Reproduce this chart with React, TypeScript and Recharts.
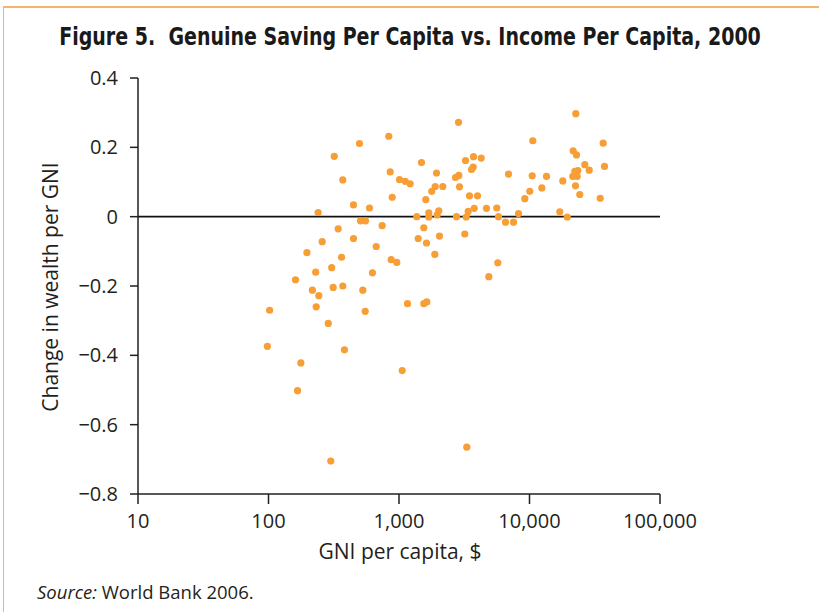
import { ReferenceLine, Scatter, ScatterChart, XAxis, YAxis } from "recharts";

// GNI per capita ($) and change in wealth per GNI, one entry per country
const gniPerCapita = [
  835, 498, 319, 856, 371, 887, 448, 594, 240, 507, 554, 342, 743, 258, 448, 669, 197, 363, 871, 962,
  230, 305, 626, 161, 217, 313, 371, 528, 243, 102, 232, 551, 287, 98, 382, 177, 167, 300, 1058, 2858,
  1487, 1938, 3233, 3723, 4265, 3594, 3704, 6904, 1009, 1116, 1218, 2710, 2872, 1894, 1783, 2166, 2909, 3469, 3995, 1605,
  3769, 4683, 5615, 2018, 1962, 1692, 1692, 3391, 3273, 1369, 2759, 5787, 8236, 6548, 7541, 1549, 1403, 2043, 3193, 1624,
  1881, 5715, 4877, 1162, 1549, 1633, 3307, 22640, 10600, 36710, 21620, 22920, 26530, 28680, 37560, 10490, 13500, 22240, 23450, 21470,
  23200, 22520, 17990, 12430, 10050, 22520, 24290, 9204, 34820, 17070, 19450,
];
const wealthChange = [
  0.232, 0.211, 0.174, 0.129, 0.106, 0.056, 0.034, 0.025, 0.012, -0.012, -0.012, -0.035, -0.026, -0.072, -0.063, -0.086, -0.104, -0.117, -0.124, -0.132,
  -0.16, -0.147, -0.162, -0.182, -0.212, -0.204, -0.2, -0.212, -0.228, -0.27, -0.26, -0.273, -0.308, -0.374, -0.384, -0.422, -0.502, -0.705, -0.444, 0.272,
  0.156, 0.126, 0.162, 0.173, 0.169, 0.136, 0.143, 0.123, 0.107, 0.102, 0.095, 0.113, 0.119, 0.087, 0.073, 0.087, 0.086, 0.06, 0.06, 0.049,
  0.024, 0.024, 0.025, 0.017, 0.005, 0.011, -0.001, 0.015, -0.001, 0, 0, 0, 0.009, -0.016, -0.016, -0.032, -0.063, -0.056, -0.05, -0.076,
  -0.109, -0.133, -0.173, -0.251, -0.251, -0.246, -0.665, 0.297, 0.219, 0.212, 0.19, 0.178, 0.15, 0.134, 0.145, 0.118, 0.116, 0.131, 0.133, 0.116,
  0.116, 0.124, 0.103, 0.083, 0.073, 0.089, 0.064, 0.052, 0.053, 0.014, -0.001,
];
const xTicks = [10, 100, 1000, 10000, 100000];
const yTicks = [-0.8, -0.6, -0.4, -0.2, 0, 0.2, 0.4];

const data = gniPerCapita.map((x, i) => ({ x, y: wealthChange[i] }));

const FONT = '"Open Sans", "Noto Sans", sans-serif';
const INK = "#231f20";
const DOT = "#f79f36";
const BORDER = "#f9b26b";

const fmtY = (v: number) => (v < 0 ? "\u2212" + Math.abs(v).toFixed(1) : v === 0 ? "0" : v.toFixed(1));

export default function App() {
  return (
    <div style={{ position: "absolute", left: 0, top: 0, width: 819, height: 612, background: "#fff", fontFamily: FONT, color: INK }}>
      <div style={{ position: "absolute", left: 3, top: 6, right: 0, height: 2, background: BORDER }} />
      <div style={{ position: "absolute", left: 3, top: 6, bottom: 0, width: 1, background: BORDER }} />
      <div
        style={{
          position: "absolute",
          left: 0,
          width: 819,
          top: 23,
          textAlign: "center",
          fontFamily: '"Liberation Sans Narrow", "DejaVu Sans Condensed", sans-serif',
          fontWeight: 700,
          fontSize: 24,
          color: "#1a1a1a",
          transform: "scaleX(0.88)",
          transformOrigin: "414px 0",
          whiteSpace: "nowrap",
        }}
      >
        Figure 5.&nbsp; Genuine Saving Per Capita vs. Income Per Capita, 2000
      </div>
      <ScatterChart width={819} height={612} margin={{ top: 78, right: 159, bottom: 0, left: 0 }}>
        <XAxis
          type="number"
          dataKey="x"
          scale="log"
          domain={[10, 100000]}
          ticks={xTicks}
          tickFormatter={(v: number) => v.toLocaleString("en-US")}
          height={118}
          tickSize={10}
          tickMargin={10}
          stroke={INK}
          strokeWidth={1.5}
          tick={{ fill: INK, fontSize: 20, fontFamily: FONT }}
          allowDataOverflow
        />
        <YAxis
          type="number"
          dataKey="y"
          domain={[-0.8, 0.4]}
          ticks={yTicks}
          tickFormatter={fmtY}
          width={138}
          tickSize={8}
          tickMargin={12}
          stroke={INK}
          strokeWidth={1.5}
          tick={{ fill: INK, fontSize: 20, fontFamily: FONT }}
          allowDataOverflow
        />
        <ReferenceLine y={0} stroke="#111" strokeWidth={1.8} />
        <Scatter
          data={data}
          fill={DOT}
          isAnimationActive={false}
          shape={(p: any) => <circle cx={p.cx} cy={p.cy} r={3.6} fill={DOT} />}
        />
      </ScatterChart>
      <div style={{ position: "absolute", left: 0, width: 800, top: 537, textAlign: "center", fontSize: 21 }}>
        GNI per capita, $
      </div>
      <div
        style={{
          position: "absolute",
          left: 50,
          top: 287,
          transform: "translate(-50%, -50%) rotate(-90deg)",
          whiteSpace: "nowrap",
          fontSize: 21,
        }}
      >
        Change in wealth per GNI
      </div>
      <div style={{ position: "absolute", left: 37, top: 579, fontSize: 18.5 }}>
        <i>Source:</i> World Bank 2006.
      </div>
    </div>
  );
}
